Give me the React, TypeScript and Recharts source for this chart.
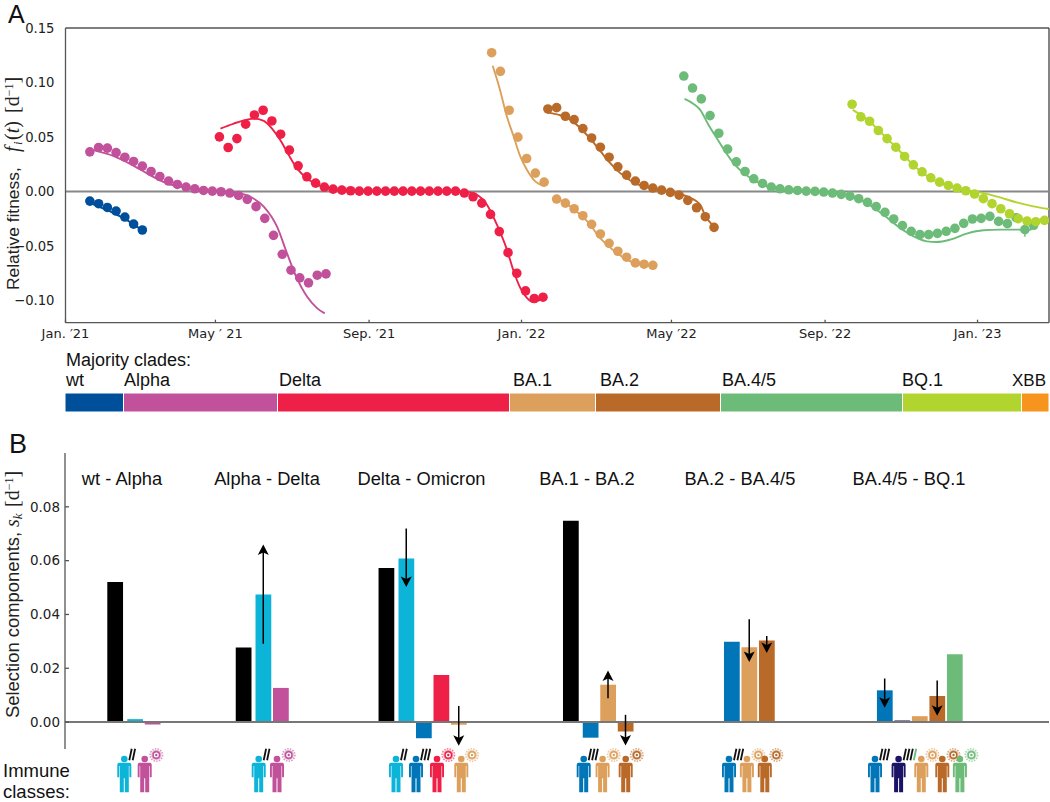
import { Bar, BarChart, Cell, ComposedChart, Line, ReferenceLine, Scatter, XAxis, YAxis } from "recharts"

const WT = "#004f9b"
const ALPHA = "#c1519b"
const DELTA = "#ef2047"
const BA1 = "#dda05c"
const BA2 = "#b96a28"
const BA45 = "#6dbb78"
const BQ1 = "#b2d42e"
const XBB = "#f7941e"
const CYAN = "#0cb4d8"
const BLUE = "#0076b8"
const NAVY = "#1b1464"

const SANS = "'Liberation Sans', Arial, sans-serif"
const TICK_FONT = "'DejaVu Sans', sans-serif"
const MATH_FONT = "'Liberation Serif', serif"

// Panel A: weekly fitness estimates, x is days since Jan. 1 2021
const WEEK = 7
const monthTicks = [0, 120, 243, 365, 485, 608, 730]
const monthLabels = ["Jan. ′21", "May ′ 21", "Sep. ′21", "Jan. ′22", "May ′22", "Sep. ′22", "Jan. ′23"]
const fitnessTicks = [0.15, 0.1, 0.05, 0, -0.05, -0.1]

const wtStart = 19.5
const wtDots = [-0.0089, -0.0113, -0.0147, -0.018, -0.0235, -0.03, -0.0354]
const wtCurveDays = [20, 28, 38.7, 49.3, 57.3, 62.7]
const wtCurve = [-0.0108, -0.0147, -0.0201, -0.0263, -0.0324, -0.0369]

const alphaStart = 19.5
const alphaDots = [
    0.0363, 0.0403, 0.0397, 0.0357, 0.0314, 0.0275, 0.0232, 0.0183, 0.0137, 0.0095,
    0.0064, 0.004, 0.0024, 0.0009, 0.0003, -0.0003, -0.0015, -0.0037, -0.0073, -0.014,
    -0.0247, -0.0403, -0.0577, -0.0723, -0.0794, -0.0839, -0.0769, -0.0757,
]
const alphaCurveDays = [22.7, 38.7, 54.7, 68, 81.3, 94.7, 108, 121.3, 134.7, 148, 158.7, 169.3, 177.3, 184, 193.3, 201.3, 207.5]
const alphaCurve = [0.0379, 0.0324, 0.0235, 0.0147, 0.0073, 0.0037, 0.0018, 0.0006, -0.0009, -0.0049, -0.014, -0.0324, -0.0568, -0.0766, -0.0965, -0.1071, -0.112]

const deltaStart = 123.2
const deltaDots = [
    0.0501, 0.0403, 0.0485, 0.0617, 0.0702, 0.0745, 0.0647, 0.0525, 0.0379, 0.0235,
    0.0134, 0.0076, 0.004, 0.0021, 0.0012, 0.0006, 0.0003, 0.0003, 0.0003, 0.0003,
    0.0003, 0.0003, 0.0003, 0.0003, 0.0003, 0.0003, 0.0003, 0.0003, -0.0015, -0.0049,
    -0.0107, -0.0211, -0.0369, -0.0562, -0.0751, -0.0913, -0.0983, -0.0971,
]
const deltaCurveDays = [124, 134.7, 145.3, 150.7, 158.7, 165.3, 172, 178.7, 185.3, 193.3, 201.3, 214.7, 254.7, 318.7, 329.3, 337.3, 345.3, 353.3, 358.7, 364, 369.3, 374.7, 381.9]
const deltaCurve = [0.0577, 0.0623, 0.0659, 0.0668, 0.0647, 0.0577, 0.047, 0.0333, 0.0211, 0.0119, 0.0064, 0.0018, 0.0003, 0, -0.0031, -0.0122, -0.0305, -0.0534, -0.0733, -0.0885, -0.0977, -0.1016, -0.0977]

const ba1Start = 341.1
const ba1Dots = [0.1273, 0.1102, 0.0745, 0.0498, 0.0302, 0.0168, 0.0085]
const ba1CurveDays = [341.9, 346.7, 353.3, 358.7, 364, 369.3, 376, 382.1]
const ba1Curve = [0.1154, 0.0977, 0.0687, 0.0504, 0.0321, 0.0198, 0.0092, 0.0052]

const ba1LateStart = 393.1
const ba1LateDots = [-0.007, -0.0107, -0.0159, -0.0223, -0.0302, -0.0391, -0.0476, -0.0549, -0.0604, -0.0656, -0.0668, -0.0678]
const ba1LateCurveDays = [393.1, 401.3, 412, 420, 426.7, 433.3, 441.3, 449.3, 457.3, 464, 472]
const ba1LateCurve = [-0.0061, -0.0116, -0.0214, -0.0305, -0.0412, -0.0488, -0.0565, -0.0626, -0.0665, -0.068, -0.068]

const ba2Start = 386.1
const ba2Dots = [
    0.0757, 0.0769, 0.069, 0.0659, 0.0577, 0.0491, 0.0406, 0.0314, 0.0226, 0.015,
    0.0095, 0.0055, 0.0031, 0.0012, -0.0009, -0.0034, -0.0082, -0.015, -0.0232, -0.033,
]
const ba2CurveDays = [385.3, 396, 405.3, 414.7, 425.3, 434.7, 444, 454.7, 468, 484, 497.3, 508, 511.7, 518.7]
const ba2Curve = [0.0723, 0.0699, 0.065, 0.055, 0.0412, 0.0275, 0.0168, 0.0082, 0.0031, -0.0006, -0.0046, -0.0122, -0.0214, -0.0321]

const ba45Start = 494.9
const ba45Dots = [
    0.1059, 0.0949, 0.0849, 0.0696, 0.0534, 0.0388, 0.0272, 0.0183, 0.0116, 0.0073,
    0.004, 0.0024, 0.0015, 0.0009, 0.0003, 0, -0.0006, -0.0015, -0.0027, -0.0043,
    -0.0067, -0.0101, -0.014, -0.0192, -0.0253, -0.0314, -0.0366, -0.0397, -0.0397, -0.0385,
    -0.0366, -0.0339, -0.0293, -0.0253, -0.0247, -0.0229, -0.0275, -0.0296, -0.0241, -0.0351,
    -0.0311,
]
const ba45CurveDays = [495.5, 502.7, 508, 514.7, 521.3, 528, 534.7, 542.7, 550.7, 561.3, 577.3, 598.7, 614.7, 628, 641.3, 654.7, 668, 678.7, 689.3, 697.3, 708, 721.3, 734.7, 748, 764, 772, 774.7]
const ba45Curve = [0.0849, 0.0803, 0.0748, 0.061, 0.0488, 0.0366, 0.0259, 0.0168, 0.0107, 0.0046, 0.0012, 0.0003, -0.0009, -0.004, -0.0107, -0.0214, -0.0336, -0.0412, -0.0458, -0.0464, -0.0443, -0.0388, -0.0357, -0.0351, -0.0351, -0.0351, -0.0321]
// the one estimate that carries a small cross in the figure
const ba45CrossDay = 767.9
const ba45CrossValue = -0.0351

const bq1Start = 629.6
const bq1Dots = [
    0.08, 0.0684, 0.0644, 0.0559, 0.0485, 0.0406, 0.0321, 0.0244, 0.018, 0.0125,
    0.0085, 0.0055, 0.0031, 0.0006, -0.0024, -0.0067, -0.0113, -0.0159, -0.0205, -0.025,
    -0.0272, -0.0278, -0.0266,
]
const bq1CurveDays = [630.1, 641.3, 654.7, 668, 681.3, 694.7, 708, 721.3, 734.7, 748, 761.3, 774.7, 787.2]
const bq1Curve = [0.0748, 0.0662, 0.0519, 0.0366, 0.0214, 0.0107, 0.0046, 0.0012, -0.0015, -0.0055, -0.0101, -0.0137, -0.0162]

// Majority clades strip
const cladeNames = ["wt", "Alpha", "Delta", "BA.1", "BA.2", "BA.4/5", "BQ.1", "XBB"]
const cladeDays = [46.8, 123.2, 185.6, 68.8, 100, 145.6, 95.2, 22]
const cladeColors = [WT, ALPHA, DELTA, BA1, BA2, BA45, BQ1, XBB]
const cladeLabelLeft = [66, 124, 279, 513, 600, 722, 902, 1012]

// Panel B: selection components per crossover
const selectionTicks = [0, 0.02, 0.04, 0.06, 0.08]
const crossoverNames = ["wt - Alpha", "Alpha - Delta", "Delta - Omicron", "BA.1 - BA.2", "BA.2 - BA.4/5", "BA.4/5 - BQ.1"]
const crossoverCenters = [122, 267, 421.5, 587, 740, 909]

const wtAlphaValues = [0.0521, 0.0011, -0.0009]
const alphaDeltaValues = [0.0277, 0.0474, 0.0127]
const deltaOmicronValues = [0.0573, 0.0608, -0.006, 0.0175, -0.001]
const ba1Ba2Values = [0.0748, -0.0058, 0.0139, -0.0035]
const ba2Ba45Values = [0.0299, 0.0278, 0.0303]
const ba45Bq1Values = [0.0118, 0.0006, 0.0022, 0.0097, 0.0252, 0.0004]

const wtAlphaColors = ["#000", CYAN, ALPHA]
const alphaDeltaColors = ["#000", CYAN, ALPHA]
const deltaOmicronColors = ["#000", CYAN, BLUE, DELTA, BA1]
const ba1Ba2Colors = ["#000", BLUE, BA1, BA2]
const ba2Ba45Colors = [BLUE, BA1, BA2]
const ba45Bq1Colors = [BLUE, NAVY, BA1, BA2, BA45, BQ1]

// bar slots along the panel B axis, one unit is one bar width
const SLOT_COUNT = 56.23
const wtAlphaSlots = [2.86, 4, 5]
const alphaDeltaSlots = [10.2, 11.33, 12.33]
const deltaOmicronSlots = [18.36, 19.5, 20.5, 21.5, 22.5]
const ba1Ba2Slots = [28.9, 30.03, 31.03, 32.03]
const ba2Ba45Slots = [38.1, 39.1, 40.1]
const ba45Bq1Slots = [46.84, 47.84, 48.84, 49.84, 50.84, 51.84]

const arrowSlots = [11.33, 19.5, 22.5, 31.03, 32.03, 39.1, 40.1, 46.84, 49.84]
const arrowFrom = [0.0291, 0.0719, 0.006, 0.0089, 0.0027, 0.0382, 0.032, 0.0162, 0.0155]
const arrowTo = [0.066, 0.0502, -0.0088, 0.0192, -0.0087, 0.0223, 0.0257, 0.0053, 0.0024]

// Immune class pictograms under panel B
const personLefts = [124.3, 144.7, 258.7, 277, 396, 416, 437, 461.3, 583.7, 602.6, 625.7, 729, 746.9, 764.8, 875, 898.6, 921.3, 942.3, 959.9]
const personColors = [CYAN, ALPHA, CYAN, ALPHA, CYAN, BLUE, DELTA, BA1, BLUE, BA1, BA2, BLUE, BA1, BA2, BLUE, NAVY, BA1, BA2, BA45]
const personStrokes = [2, 0, 2, 0, 2, 3, 0, 0, 3, 0, 0, 3, 0, 0, 3, 4, 0, 0, 0]
const virusLefts = [156.3, 288.7, 448.3, 472, 613.8, 636.8, 758.4, 776.3, 932.5, 953.5, 971.4]
const virusColors = [ALPHA, ALPHA, DELTA, BA1, BA1, BA2, BA1, BA2, BA1, BA2, BA45]

const toDots = (start: number, values: number[]) =>
    values.map((value, i) => ({ day: start + WEEK * i, value }))

const toCurve = (days: number[], values: number[]) =>
    days.map((day, i) => ({ day, value: values[i] }))

const toBars = (slots: number[], values: number[], colors: string[]) =>
    slots.map((slot, i) => ({ slot, value: values[i], color: colors[i] }))

const fitnessCurves = [
    { key: "wt", color: WT, data: toCurve(wtCurveDays, wtCurve) },
    { key: "alpha", color: ALPHA, data: toCurve(alphaCurveDays, alphaCurve) },
    { key: "delta", color: DELTA, data: toCurve(deltaCurveDays, deltaCurve) },
    { key: "ba1", color: BA1, data: toCurve(ba1CurveDays, ba1Curve) },
    { key: "ba1Late", color: BA1, data: toCurve(ba1LateCurveDays, ba1LateCurve) },
    { key: "ba2", color: BA2, data: toCurve(ba2CurveDays, ba2Curve) },
    { key: "ba45", color: BA45, data: toCurve(ba45CurveDays, ba45Curve) },
    { key: "bq1", color: BQ1, data: toCurve(bq1CurveDays, bq1Curve) },
]

const fitnessDots = [
    { key: "wt", color: WT, data: toDots(wtStart, wtDots) },
    { key: "alpha", color: ALPHA, data: toDots(alphaStart, alphaDots) },
    { key: "delta", color: DELTA, data: toDots(deltaStart, deltaDots) },
    { key: "ba1", color: BA1, data: toDots(ba1Start, ba1Dots) },
    { key: "ba1Late", color: BA1, data: toDots(ba1LateStart, ba1LateDots) },
    { key: "ba2", color: BA2, data: toDots(ba2Start, ba2Dots) },
    { key: "ba45", color: BA45, data: toDots(ba45Start, ba45Dots) },
    { key: "bq1", color: BQ1, data: toDots(bq1Start, bq1Dots) },
]

const selectionBars = [
    ...toBars(wtAlphaSlots, wtAlphaValues, wtAlphaColors),
    ...toBars(alphaDeltaSlots, alphaDeltaValues, alphaDeltaColors),
    ...toBars(deltaOmicronSlots, deltaOmicronValues, deltaOmicronColors),
    ...toBars(ba1Ba2Slots, ba1Ba2Values, ba1Ba2Colors),
    ...toBars(ba2Ba45Slots, ba2Ba45Values, ba2Ba45Colors),
    ...toBars(ba45Bq1Slots, ba45Bq1Values, ba45Bq1Colors),
]

const cladeRow = [
    Object.fromEntries([["label", "clades"], ...cladeNames.map((name, i) => [name, cladeDays[i]])]),
]

const signedTick = (value: number) => value.toFixed(2).replace("-", "\u2212")

const monthLabel = (value: number) => monthLabels[monthTicks.indexOf(value)]

// draws the arrow from the segment the ReferenceLine hands over
const ArrowShape = ({ x1, y1, x2, y2 }: any) => {
    const dir = y2 < y1 ? 1 : -1
    return (
        <g>
            <line x1={x1} y1={y1} x2={x2} y2={y2 + dir * 6} stroke="#000" strokeWidth={1.5} />
            <path
                d={`M${x2} ${y2} L${x2 + 5.5} ${y2 + dir * 10.5} L${x2} ${y2 + dir * 8} L${x2 - 5.5} ${y2 + dir * 10.5} Z`}
                fill="#000"
            />
        </g>
    )
}

const CrossMarker = ({ cx, cy }: any) => (
    <path d={`M${cx} ${cy - 6} V${cy + 7} M${cx - 6} ${cy} H${cx + 6}`} stroke={BA45} strokeWidth={1.4} />
)

const Person = ({ x, color, strokes }: { x: number; color: string; strokes: number }) => (
    <g transform={`translate(${x} 762.7)`}>
        <circle cx={0} cy={-3.7} r={3.3} fill={color} />
        <path
            d="M-5 0 H5 Q7 0 7 2 V14.5 H5.1 V3.4 H4.5 V29.6 H0.5 V15.5 H-0.5 V29.6 H-4.5 V3.4 H-5.1 V14.5 H-7 V2 Q-7 0 -5 0 Z"
            fill={color}
        />
        {Array.from({ length: strokes }).map((_, i) => (
            <path
                key={i}
                d={`M${5 + i * 3.4} -2.5 L${7.4 + i * 3.4} -14`}
                stroke={i === 3 ? BA45 : "#111"}
                strokeWidth={1.8}
            />
        ))}
    </g>
)

const Virus = ({ x, color }: { x: number; color: string }) => (
    <g transform={`translate(${x} 755)`}>
        <circle r={6.2} fill="none" stroke={color} strokeOpacity={0.6} strokeWidth={1.6} strokeDasharray="1.5 1.2" />
        <circle r={5} fill={color} fillOpacity={0.5} />
        <circle r={3.9} fill={color} />
        <circle r={2.5} fill="#fff" />
        <circle r={1.2} fill={color} />
    </g>
)

const Annotations = () => (
    <svg width={1050} height={802} style={{ position: "absolute", left: 0, top: 0, pointerEvents: "none" }}>
        <g fontFamily={SANS} fill="#111">
            <text x={8} y={22.7} fontSize={25}>A</text>
            <text x={9} y={452.7} fontSize={27}>B</text>
            <text x={66} y={366} fontSize={18}>Majority clades:</text>
            {cladeNames.map((name, i) => (
                <text key={name} x={cladeLabelLeft[i]} y={386} fontSize={name === "XBB" ? 17 : 18}>{name}</text>
            ))}
            {crossoverNames.map((name, i) => (
                <text key={name} x={crossoverCenters[i]} y={485} fontSize={18.3} textAnchor="middle">{name}</text>
            ))}
            <text x={3} y={777} fontSize={18.5}>Immune</text>
            <text x={3} y={798} fontSize={18.5}>classes:</text>
        </g>

        <g transform="translate(18.5 290) rotate(-90)" fill="#222">
            <text fontFamily={SANS} fontSize={17.4}>Relative fitness,</text>
            <text fontFamily={MATH_FONT} fontSize={20}>
                <tspan x={138} fontStyle="italic">f</tspan>
                <tspan x={145} dy={3} fontSize={13} fontStyle="italic">i</tspan>
                <tspan x={150} dy={-3}>(</tspan>
                <tspan fontStyle="italic">t</tspan>
                <tspan>)</tspan>
                <tspan x={177}>[d</tspan>
                <tspan dy={-6} fontSize={12}>{"\u2212"}1</tspan>
                <tspan dy={6}>]</tspan>
            </text>
        </g>

        <g transform="translate(18.5 718) rotate(-90)" fill="#222">
            <text fontFamily={SANS} fontSize={18.4}>Selection components,</text>
            <text fontFamily={MATH_FONT} fontSize={20}>
                <tspan x={191} fontStyle="italic">s</tspan>
                <tspan dy={3} fontSize={13} fontStyle="italic">k</tspan>
                <tspan x={211} dy={-3}>[d</tspan>
                <tspan dy={-6} fontSize={12}>{"\u2212"}1</tspan>
                <tspan dy={6}>]</tspan>
            </text>
        </g>

        {virusLefts.map((x, i) => (
            <Virus key={i} x={x} color={virusColors[i]} />
        ))}
        {personLefts.map((x, i) => (
            <Person key={i} x={x} color={personColors[i]} strokes={personStrokes[i]} />
        ))}
    </svg>
)

const FitnessPanel = () => (
    <ComposedChart width={1050} height={345} margin={{ top: 28, right: 1, bottom: 0, left: 0 }}>
        <XAxis
            type="number"
            dataKey="day"
            domain={[0, 787.2]}
            ticks={monthTicks}
            interval={0}
            tickFormatter={monthLabel}
            height={22.3}
            tickSize={-3}
            tickMargin={9}
            allowDataOverflow
            tick={{ fontSize: 13, fontFamily: TICK_FONT, fill: "#222" }}
            stroke="#555"
            strokeWidth={1.3}
        />
        <YAxis
            type="number"
            dataKey="value"
            domain={[-0.1205, 0.15]}
            ticks={fitnessTicks}
            interval={0}
            width={65.5}
            tickLine={false}
            tickMargin={5}
            tickFormatter={signedTick}
            allowDataOverflow
            tick={{ fontSize: 13.2, fontFamily: TICK_FONT, fill: "#222" }}
            stroke="#555"
            strokeWidth={1.3}
        />
        <ReferenceLine y={0.15} stroke="#555" strokeWidth={1.3} />
        <ReferenceLine x={787.2} stroke="#333" strokeWidth={1.2} />
        <ReferenceLine y={0} stroke="#888" strokeWidth={2} />
        {fitnessCurves.map((curve) => (
            <Line
                key={curve.key}
                data={curve.data}
                dataKey="value"
                type="monotone"
                stroke={curve.color}
                strokeWidth={1.9}
                dot={false}
                isAnimationActive={false}
            />
        ))}
        <Scatter
            data={[{ day: ba45CrossDay, value: ba45CrossValue }]}
            dataKey="value"
            shape={CrossMarker}
            isAnimationActive={false}
        />
        {fitnessDots.map((series) => (
            <Scatter
                key={series.key}
                data={series.data}
                dataKey="value"
                fill={series.color}
                shape={(props: any) => <circle cx={props.cx} cy={props.cy} r={4.8} fill={series.color} />}
                isAnimationActive={false}
            />
        ))}
    </ComposedChart>
)

const CladeStrip = () => (
    <BarChart
        width={1050}
        height={19}
        layout="vertical"
        data={cladeRow}
        barCategoryGap={0}
        margin={{ top: 0, right: 1, bottom: 0, left: 65 }}
    >
        <XAxis type="number" domain={[0, 787.2]} hide />
        <YAxis type="category" dataKey="label" hide />
        {cladeNames.map((name, i) => (
            <Bar
                key={name}
                dataKey={name}
                stackId="clades"
                fill={cladeColors[i]}
                stroke="#fff"
                strokeWidth={1}
                isAnimationActive={false}
            />
        ))}
    </BarChart>
)

const SelectionPanel = () => (
    <BarChart
        width={1050}
        height={296}
        data={selectionBars}
        barSize={17.5}
        margin={{ top: 0, right: 1, bottom: 0, left: 0 }}
    >
        <XAxis type="number" dataKey="slot" domain={[0, SLOT_COUNT]} hide />
        <YAxis
            type="number"
            domain={[-0.01, 0.1]}
            ticks={selectionTicks}
            interval={0}
            width={65}
            tickSize={-4}
            tickMargin={9}
            tickFormatter={(value: number) => value.toFixed(2)}
            allowDataOverflow
            tick={{ fontSize: 13.5, fontFamily: TICK_FONT, fill: "#222" }}
            stroke="#555"
            strokeWidth={1.3}
        />
        <Bar dataKey="value" isAnimationActive={false}>
            {selectionBars.map((bar, i) => (
                <Cell key={i} fill={bar.color} />
            ))}
        </Bar>
        <ReferenceLine y={0} stroke="#777" strokeWidth={2} />
        {arrowSlots.map((slot, i) => (
            <ReferenceLine
                key={i}
                segment={[
                    { x: slot, y: arrowFrom[i] },
                    { x: slot, y: arrowTo[i] },
                ]}
                shape={ArrowShape}
            />
        ))}
    </BarChart>
)

export default function App() {
    return (
        <div style={{ position: "absolute", left: 0, top: 0, width: 1050, height: 802, background: "#fff", overflow: "hidden" }}>
            <div style={{ position: "absolute", left: 0, top: 0 }}>
                <FitnessPanel />
            </div>
            <div style={{ position: "absolute", left: 0, top: 393 }}>
                <CladeStrip />
            </div>
            <div style={{ position: "absolute", left: 0, top: 453 }}>
                <SelectionPanel />
            </div>
            <Annotations />
        </div>
    )
}
